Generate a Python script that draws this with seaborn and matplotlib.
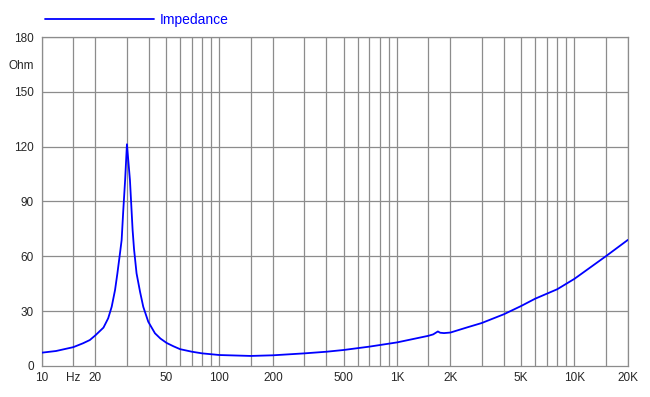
import numpy as np
import pandas as pd
import matplotlib
matplotlib.use('Agg')
import matplotlib.pyplot as plt
import seaborn as sns

# Impedance curve (Hz, Ohm)
freq = [10, 12, 15, 17, 18.6, 20, 22.2, 23.6, 24.7, 25.8, 26.6, 27.5, 28.1,
        28.7, 29.4, 30.1, 31.3, 32.4, 33.0, 34.1, 35.7, 37.2, 39.7, 43.3, 46.5,
        50.4, 55, 60, 70, 80, 100, 150, 200, 300, 400, 500, 700, 1000, 1500,
        1600, 1700, 1750, 1840, 2000, 2500, 3000, 4000, 5000, 6000, 8000,
        10000, 15000, 20000]
impedance = [7.3, 8.2, 10.3, 12.4, 14.2, 16.8, 21.0, 26.1, 32.4, 41.6, 50.7,
             61.6, 68.9, 85.0, 101.7, 121.3, 101.7, 74.4, 64.0, 50.7, 40.5,
             32.4, 24.2, 17.9, 15.0, 12.6, 10.8, 9.2, 7.8, 6.9, 6.0, 5.5, 5.85,
             6.9, 7.8, 8.75, 10.6, 12.9, 16.5, 17.3, 18.9, 18.2, 18.0, 18.3,
             21.2, 23.5, 28.3, 32.8, 36.8, 42.0, 47.7, 60.0, 69.0]

grid_freqs = [10, 15, 20, 30, 40, 50, 60, 70, 80, 90, 100, 150, 200, 300, 400,
              500, 600, 700, 800, 900, 1000, 1500, 2000, 3000, 4000, 5000, 6000,
              7000, 8000, 9000, 10000, 15000, 20000]
x_labels = {10: '10', 15: 'Hz', 20: '20', 50: '50', 100: '100', 200: '200',
            500: '500', 1000: '1K', 2000: '2K', 5000: '5K', 10000: '10K',
            20000: '20K'}
y_ticks = [0, 30, 60, 90, 120, 150, 165, 180]
y_labels = ['0', '30', '60', '90', '120', '150', 'Ohm', '180']

df = pd.DataFrame({'freq': freq, 'impedance': impedance})

sns.set_style('white')
plt.rcParams['font.family'] = ['Liberation Sans', 'DejaVu Sans']

fig, ax = plt.subplots(figsize=(6.5, 3.97), dpi=100)
fig.subplots_adjust(left=0.0646, right=0.966, bottom=0.0781, top=0.9068)

grey = '#8c8c8c'
for f in grid_freqs:
    ax.axvline(f, color=grey, lw=0.9, zorder=1)
for y in [30, 60, 90, 120, 150, 180]:
    ax.axhline(y, color=grey, lw=0.9, zorder=1)

sns.lineplot(data=df, x='freq', y='impedance', color='#0000ff', lw=1.3,
             ax=ax, zorder=3, label='Impedance')

ax.set_xscale('log')
ax.set_xlim(10, 20000)
ax.set_ylim(0, 180)
ax.set_xticks(grid_freqs)
ax.set_xticklabels([x_labels.get(f, '') for f in grid_freqs])
ax.xaxis.set_minor_locator(matplotlib.ticker.NullLocator())
ax.set_yticks(y_ticks)
ax.set_yticklabels(y_labels)
ax.tick_params(axis='x', length=3, width=0.9, color=grey, labelsize=8.5, pad=1)
ax.tick_params(axis='y', length=5, width=0.9, color=grey, labelsize=8.5, pad=1)
# no tick mark next to the unit label
ax.yaxis.get_major_ticks()[6].tick1line.set_visible(False)
ax.set_xlabel('')
ax.set_ylabel('')
for spine in ax.spines.values():
    spine.set_color(grey)
    spine.set_linewidth(0.9)

leg = ax.legend(loc='lower left', bbox_to_anchor=(-0.012, 1.0), frameon=False,
                handlelength=7.9, handletextpad=0.35, fontsize=10,
                borderaxespad=0.5, borderpad=0.2)
for t in leg.get_texts():
    t.set_color('#0000ff')

fig.savefig('out.png', dpi=100)
